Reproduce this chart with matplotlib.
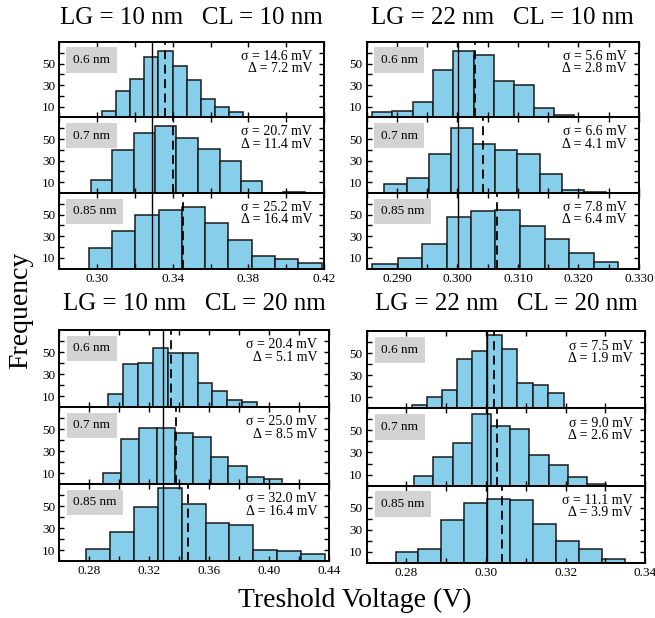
import numpy as np
import matplotlib
matplotlib.use('Agg')
import matplotlib.pyplot as plt
from matplotlib.ticker import FixedLocator, FormatStrFormatter

plt.rcParams['font.family'] = ['Liberation Serif', 'DejaVu Serif']

thickness = ['0.6 nm', '0.7 nm', '0.85 nm']
titles = ['LG = 10 nm   CL = 10 nm', 'LG = 22 nm   CL = 10 nm',
          'LG = 10 nm   CL = 20 nm', 'LG = 22 nm   CL = 20 nm']

# LG 10, CL 10
edges_a = [[0.3024, 0.3098, 0.3174, 0.3248, 0.3323, 0.3399, 0.3473, 0.3547, 0.3623, 0.3697, 0.3772],
           [0.2966, 0.3080, 0.3195, 0.3306, 0.3420, 0.3535, 0.3649, 0.3760, 0.3873, 0.3984, 0.4102],
           [0.2955, 0.3078, 0.3202, 0.3325, 0.3448, 0.3572, 0.3695, 0.3818, 0.3942, 0.4065, 0.4188]]
counts_a = [[6, 25, 36, 56, 62, 48, 35, 17, 10, 5],
            [12, 40, 56, 62, 51, 41, 30, 11, 0, 1],
            [19, 35, 50, 54, 57, 42, 26, 12, 9, 5]]
sigma_a = [14.6, 20.7, 25.2]
delta_a = [7.2, 11.4, 16.4]
vref_a = 0.3288

# LG 22, CL 10
edges_b = [[0.2859, 0.2892, 0.2926, 0.2959, 0.2992, 0.3027, 0.3060, 0.3093, 0.3126, 0.3159, 0.3192],
           [0.2879, 0.2916, 0.2953, 0.2990, 0.3026, 0.3062, 0.3099, 0.3136, 0.3173, 0.3210, 0.3246],
           [0.2859, 0.2901, 0.2941, 0.2983, 0.3023, 0.3062, 0.3104, 0.3144, 0.3185, 0.3225, 0.3266]]
counts_b = [[5, 6, 14, 44, 62, 58, 34, 30, 9, 2],
            [8, 14, 36, 60, 45, 40, 36, 18, 3, 1],
            [4, 10, 23, 48, 53, 54, 39, 27, 14, 6]]
sigma_b = [5.6, 6.6, 7.8]
delta_b = [2.8, 4.1, 6.4]
vref_b = 0.3001

# LG 10, CL 20
edges_c = [[0.2927, 0.3027, 0.3127, 0.3227, 0.3323, 0.3423, 0.3523, 0.3620, 0.3720, 0.3820, 0.3920],
           [0.2889, 0.3009, 0.3131, 0.3249, 0.3371, 0.3489, 0.3609, 0.3727, 0.3849, 0.3967, 0.4087],
           [0.2778, 0.2938, 0.3098, 0.3256, 0.3416, 0.3576, 0.3734, 0.3894, 0.4054, 0.4211, 0.4371]]
counts_c = [[12, 39, 40, 54, 49, 49, 22, 15, 6, 5],
            [10, 41, 51, 51, 46, 43, 25, 16, 6, 5],
            [11, 26, 49, 66, 52, 35, 33, 10, 9, 6]]
sigma_c = [20.4, 25.0, 32.0]
delta_c = [5.1, 8.5, 16.4]
vref_c = 0.3291

# LG 22, CL 20
edges_d = [[0.2813, 0.2852, 0.2890, 0.2928, 0.2965, 0.3003, 0.3041, 0.3079, 0.3118, 0.3156, 0.3195],
           [0.2819, 0.2867, 0.2916, 0.2965, 0.3012, 0.3061, 0.3108, 0.3158, 0.3206, 0.3254, 0.3301],
           [0.2773, 0.2830, 0.2888, 0.2945, 0.3003, 0.3061, 0.3118, 0.3177, 0.3234, 0.3292, 0.3350]]
counts_d = [[3, 10, 17, 45, 52, 67, 54, 23, 21, 14],
            [9, 26, 39, 65, 54, 51, 28, 19, 8, 1],
            [10, 12, 39, 54, 58, 57, 35, 20, 12, 3]]
sigma_d = [7.5, 9.0, 11.1]
delta_d = [1.9, 2.6, 3.9]
vref_d = 0.3002

xlims = [(0.28, 0.42), (0.285, 0.330), (0.26, 0.44), (0.27, 0.34)]
xmajor = [[0.30, 0.34, 0.38, 0.42], [0.290, 0.300, 0.310, 0.320, 0.330],
          [0.28, 0.32, 0.36, 0.40, 0.44], [0.28, 0.30, 0.32, 0.34]]
xminor = [[0.28, 0.32, 0.36, 0.40], [0.285, 0.295, 0.305, 0.315, 0.325],
          [0.26, 0.30, 0.34, 0.38, 0.42], [0.27, 0.29, 0.31, 0.33]]
xfmt = ['%.2f', '%.3f', '%.2f', '%.2f']

groups = [(edges_a, counts_a, sigma_a, delta_a, vref_a),
          (edges_b, counts_b, sigma_b, delta_b, vref_b),
          (edges_c, counts_c, sigma_c, delta_c, vref_c),
          (edges_d, counts_d, sigma_d, delta_d, vref_d)]

# figure-fraction layout: left, width, bottom of lowest panel, panel height
boxes = [(0.0905, 0.4041, 0.5655, 0.1222),
         (0.5598, 0.4157, 0.5655, 0.1222),
         (0.0905, 0.4122, 0.0922, 0.1246),
         (0.5598, 0.4253, 0.0898, 0.1246)]
title_y = [0.971, 0.971, 0.508, 0.508]

fig = plt.figure(figsize=(6.55, 6.18), dpi=100)

for g, (edges, counts, sig, dlt, vref) in enumerate(groups):
    left, width, bottom, h = boxes[g]
    for k in range(3):
        ax = fig.add_axes([left, bottom + (2 - k) * h, width, h])
        e = np.array(edges[k])
        ax.bar(e[:-1], counts[k], width=np.diff(e), align='edge',
               color='skyblue', edgecolor='#1a1a1a', linewidth=1.1)
        ax.axvline(vref, color='black', lw=1.0)
        ax.axvline(vref + dlt[k] / 1000, color='black', lw=1.3, ls=(0, (5, 3)))
        ax.set_xlim(*xlims[g])
        ax.set_ylim(0, 70)
        ax.xaxis.set_major_locator(FixedLocator(xmajor[g]))
        ax.xaxis.set_minor_locator(FixedLocator(xminor[g]))
        ax.xaxis.set_major_formatter(FormatStrFormatter(xfmt[g]))
        ax.yaxis.set_major_locator(FixedLocator([10, 30, 50]))
        ax.yaxis.set_minor_locator(FixedLocator([20, 40, 60]))
        ax.tick_params(which='both', direction='in', top=True, right=True,
                       length=3.5, width=1, labelsize=9.5, pad=3)
        if k < 2:
            ax.tick_params(labelbottom=False)
        for s in ax.spines.values():
            s.set_linewidth(1.4)
        ax.text(0.052, 0.76, thickness[k], transform=ax.transAxes, fontsize=9.5,
                va='center', ha='left',
                bbox=dict(boxstyle='square,pad=0.5', fc='#d3d3d3', ec='none'))
        ax.text(0.955, 0.73, 'σ = %.1f mV\nΔ = %.1f mV' % (sig[k], dlt[k]),
                transform=ax.transAxes, fontsize=10, va='center', ha='right',
                multialignment='right', linespacing=0.95)
    fig.text(left + width / 2, title_y[g], titles[g], fontsize=18,
             ha='center', va='center')

fig.text(0.031, 0.497, 'Frequency', rotation=90, fontsize=20, ha='center', va='center')
fig.text(0.542, 0.029, 'Treshold Voltage (V)', fontsize=20, ha='center', va='center')

fig.savefig('out.png', dpi=100)
